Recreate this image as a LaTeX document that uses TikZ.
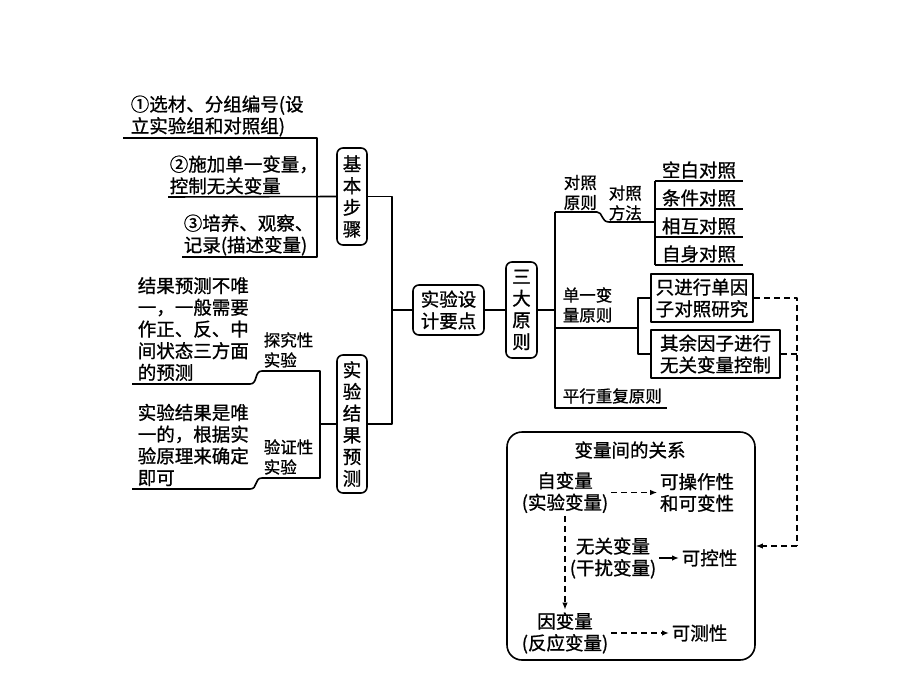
\documentclass[tikz,border=0pt]{standalone}
\usepackage{fontspec}
\setmainfont{Noto Sans CJK SC}[FakeBold=1.0]
\usetikzlibrary{arrows.meta}
\newcommand\myfA{\fontsize{18.5}{21.7}\selectfont}
\newcommand\myfB{\fontsize{16.5}{20}\selectfont}
\begin{document}
\begin{tikzpicture}[x=1pt,y=-1pt, line width=1.6pt, line join=round,
  every node/.style={inner sep=0pt, font=\myfA},
  txt/.style={align=left, anchor=west},
  vbox/.style={draw, rounded corners=6pt, minimum width=30pt, align=center},
  rbox/.style={draw, rounded corners=6pt, align=center},
  sbox/.style={draw, align=center},
  dsh/.style={dash pattern=on 6pt off 4pt, line width=1.7pt},
  arr/.style={-{Latex[length=7pt,width=5.5pt]}},
  vt/.style={align=center, inner sep=2pt}
]
\fill[white] (0,0) rectangle (920,690);
\useasboundingbox (0,0) rectangle (920,690);

% basic steps
\node[txt] (s1) at (130,116) {①选材、分组编号(设\\立实验组和对照组)};
\node[txt] (s2) at (169,175) {②施加单一变量，\\控制无关变量};
\node[txt] (s3) at (183,235) {③培养、观察、\\记录(描述变量)};
\node[vbox, minimum height=97pt] (b1) at (352,196.5) {基\\本\\步\\骤};
\draw (123,138) -- (317,138) -- (317,257) -- (182,257);
\draw (168,197) -- (b1.west);

% results prediction
\node[txt] (r1) at (137,329) {结果预测不唯\\一，一般需要\\作正、反、中\\间状态三方面\\的预测};
\node[txt] (r2) at (137,445) {实验结果是唯\\一的，根据实\\验原理来确定\\即可};
\node[txt, font=\myfB] (e1) at (263,350) {探究性\\实验};
\node[txt, font=\myfB] (e2) at (263,457) {验证性\\实验};
\node[vbox, minimum height=138pt] (b2) at (352,424) {实\\验\\结\\果\\预\\测};
\draw (132,384) -- (250,384) .. controls (258,384) and (254,371) .. (262,371) -- (320,371) -- (320,478) -- (262,478) .. controls (254,478) and (258,489) .. (250,489) -- (132,489);
\draw (320,424) -- (b2.west);

% trunk
\node[rbox, minimum width=71pt, minimum height=50pt] (d) at (448.5,310) {实验设\\计要点};
\node[vbox, minimum width=31pt, minimum height=96pt] (sd) at (521.5,310) {三\\大\\原\\则};
\draw (b1.east) -- (392,196.5) -- (392,424) -- (b2.east);
\draw (392,310) -- (d.west);
\draw (d.east) -- (sd.west);
\draw (sd.east) -- (555,310);

% principles
\node[txt, font=\myfB] (p1) at (563,192.5) {对照\\原则};
\node[txt, font=\myfB] (p1m) at (608,203) {对照\\方法};
\node (c1) at (699,170) {空白对照};
\node (c2) at (699,198) {条件对照};
\node (c3) at (699,226) {相互对照};
\node (c4) at (699,254) {自身对照};
\draw (555,212) -- (555,408) -- (667,408);
\draw (555,212) -- (597,212) .. controls (603,212) and (601,222) .. (609,222) -- (655,222);
\draw (655,181) -- (655,265);
\draw (655,181) -- (743,181);
\draw (655,209) -- (743,209);
\draw (655,237) -- (743,237);
\draw (655,265) -- (743,265);

\node[txt, font=\myfB] (p2) at (562,305) {单一变\\量原则};
\node[sbox, minimum width=102pt, minimum height=48pt] (q1) at (702,298) {只进行单因\\子对照研究};
\node[sbox, minimum width=129pt, minimum height=48pt, line width=2.2pt] (q2) at (715.5,354) {其余因子进行\\无关变量控制};
\draw (555,328) -- (638,328);
\draw (q1.west) -- (638,298) -- (638,354) -- (q2.west);

\node[txt, font=\myfB] (p3) at (562,396) {平行重复原则};

% variable box
\node[draw, rounded corners=15pt, minimum width=248pt, minimum height=228pt] (vb) at (631,546) {};
\node (vtt) at (630,450) {变量间的关系};
\node[vt] (zi) at (565,492.5) {自变量\\(实验变量)};
\node[vt] (kc) at (697,492.5) {可操作性\\和可变性};
\node[vt] (wg) at (613,558) {无关变量\\(干扰变量)};
\node[vt, anchor=west] (kk) at (679,558) {可控性};
\node[vt] (yb) at (565,633) {因变量\\(反应变量)};
\node[vt, anchor=west] (kcx) at (669,633) {可测性};
\draw[dsh, arr] (zi) -- (kc);
\draw[arr] (wg) -- (kk);
\draw[dsh, arr] (yb) -- (kcx);
\draw[dsh, arr] (zi.south) -- (yb.north);

% dashed link
\draw[dsh] (q1.east) -- (797,298) -- (797,546);
\draw[dsh] (q2.east) -- (797,354);
\draw[dsh, arr] (797,546) -- (vb.east);
\end{tikzpicture}
\end{document}
